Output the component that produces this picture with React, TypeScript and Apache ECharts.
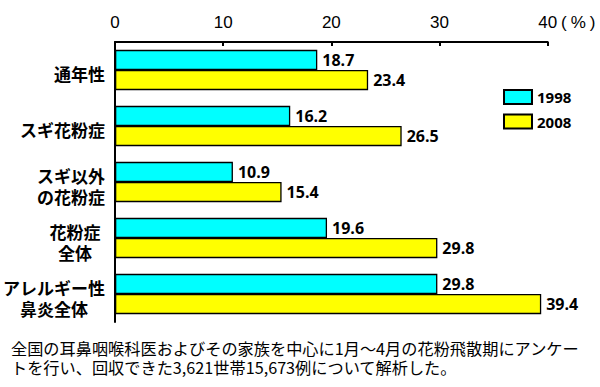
import React, { useEffect, useRef } from "react";
import * as echarts from "echarts";

const categories = ["通年性", "スギ花粉症", "スギ以外\nの花粉症", "花粉症\n全体", "アレルギー性\n鼻炎全体"];
const values1998 = [18.7, 16.2, 10.9, 19.6, 29.8];
const values2008 = [23.4, 26.5, 15.4, 29.8, 39.4];
const seriesNames = ["1998", "2008"];
const xMin = 0;
const xMax = 40;
const xStep = 10;
const footnote =
  "全国の耳鼻咽喉科医およびその家族を中心に1月～4月の花粉飛散期にアンケー\nトを行い、回収できた3,621世帯15,673例について解析した。";

const CJK = "'Noto Sans CJK JP', sans-serif";
const LIB = "'Liberation Sans', Arial, sans-serif";

export default function App() {
  const ref = useRef<HTMLDivElement>(null);
  useEffect(() => {
    if (!ref.current) return;
    const chart = echarts.init(ref.current, null, { renderer: "svg" });
    const labelStyle = {
      show: true,
      position: "right",
      distance: 5,
      color: "#000",
      fontSize: 16,
      fontWeight: "bold",
      fontFamily: "'Open Sans', sans-serif",
    };
    chart.setOption({
      animation: false,
      backgroundColor: "#fff",
      title: {
        text: footnote,
        left: 11,
        top: 338,
        padding: 0,
        textStyle: {
          fontSize: 16.2,
          lineHeight: 19.5,
          fontWeight: "normal",
          color: "#000",
          fontFamily: CJK,
        },
      },
      legend: {
        orient: "vertical",
        left: 503,
        top: 89,
        padding: 0,
        itemWidth: 28,
        itemHeight: 14,
        itemGap: 8.5,
        icon: "rect",
        data: seriesNames,
        textStyle: {
          fontSize: 15,
          fontWeight: "bold",
          color: "#000",
          fontFamily: "'Open Sans', sans-serif",
        },
      },
      grid: { left: 112.7, right: 52.3, top: 42, height: 280 },
      xAxis: {
        type: "value",
        position: "top",
        min: xMin,
        max: xMax,
        interval: xStep,
        axisLine: { show: true, lineStyle: { color: "#000", width: 2 } },
        axisTick: { show: true, inside: true, length: 4, lineStyle: { color: "#000", width: 2 } },
        splitLine: { show: false },
        axisLabel: {
          margin: 11,
          fontSize: 17,
          color: "#000",
          fontFamily: LIB,
        },
      },
      yAxis: {
        type: "category",
        inverse: true,
        data: categories,
        axisLine: { show: true, lineStyle: { color: "#000", width: 2 } },
        axisTick: { show: false },
        axisLabel: {
          interval: 0,
          margin: 10,
          align: "right",
          padding: [7, 0, 0, 0],
          fontSize: 17,
          fontWeight: "bold",
          color: "#000",
          fontFamily: CJK,
          lineHeight: 21,
          formatter: (v: string) => {
            const lines = v.split("\n");
            if (lines.length === 1) return v;
            const key = lines[0].length === 3 ? "w" : "c";
            return lines.map((l) => `{${key}|${l}}`).join("\n");
          },
          rich: {
            c: { align: "center", fontSize: 17, fontWeight: "bold", color: "#000", fontFamily: CJK, lineHeight: 21 },
            w: { align: "center", width: 60, fontSize: 17, fontWeight: "bold", color: "#000", fontFamily: CJK, lineHeight: 21 },
          },
        },
      },
      graphic: [
        {
          type: "text",
          x: 561,
          y: 22,
          style: {
            text: "{p|(}{q|%}{p|)}",
            fill: "#000",
            font: `17px ${LIB}`,
            verticalAlign: "middle",
            align: "left",
            rich: {
              p: { fontSize: 17, fontFamily: LIB, fill: "#000" },
              q: { fontSize: 17, fontFamily: LIB, fill: "#000", padding: [0, 4, 0, 4] },
            },
          },
        },
      ],
      series: [
        {
          name: seriesNames[0],
          type: "bar",
          data: values1998,
          barGap: "0%",
          barCategoryGap: "28%",
          itemStyle: { color: "#00FFFF", borderColor: "#000", borderWidth: 1.3 },
          label: labelStyle,
        },
        {
          name: seriesNames[1],
          type: "bar",
          data: values2008,
          barGap: "0%",
          barCategoryGap: "28%",
          itemStyle: { color: "#FFFF00", borderColor: "#000", borderWidth: 1.3 },
          label: labelStyle,
        },
      ],
    });
    return () => chart.dispose();
  }, []);
  return (
    <div
      ref={ref}
      style={{ position: "fixed", left: 0, top: 0, width: 600, height: 387 }}
    />
  );
}
